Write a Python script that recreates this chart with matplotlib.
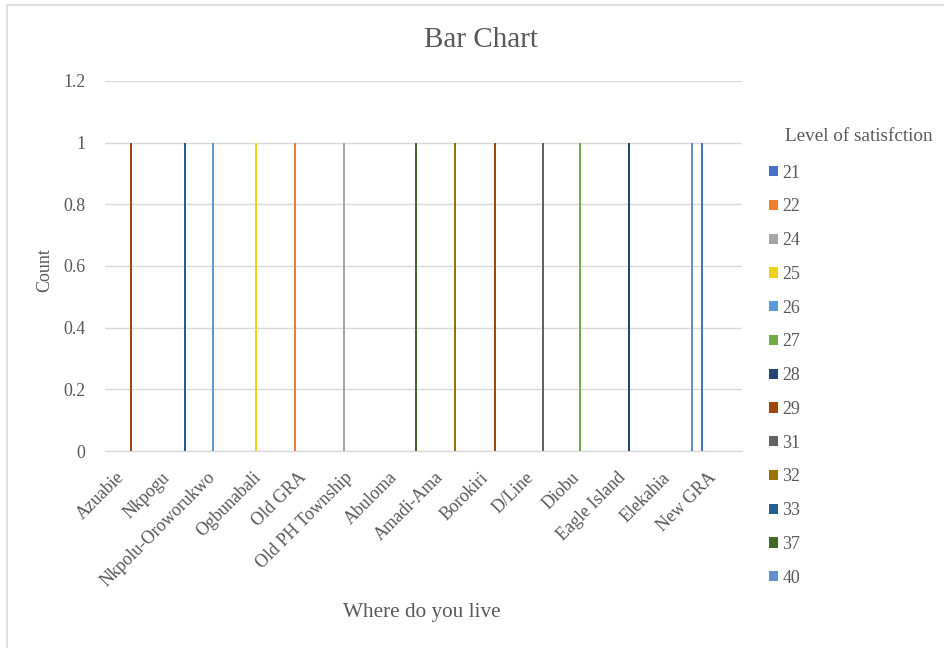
import matplotlib
matplotlib.use("Agg")
import matplotlib.pyplot as plt
from matplotlib.patches import Rectangle, Patch
from matplotlib.ticker import FuncFormatter, MultipleLocator

# ---- data ----
categories = ["Azuabie", "Nkpogu", "Nkpolu-Oroworukwo", "Ogbunabali", "Old GRA",
              "Old PH Township", "Abuloma", "Amadi-Ama", "Borokiri", "D/Line",
              "Diobu", "Eagle Island", "Elekahia", "New GRA"]
levels = ["21", "22", "24", "25", "26", "27", "28", "29", "31", "32", "33", "37", "40"]
# satisfaction level reported in each area (one respondent each)
area_level = ["29", "33", "26", "25", "22", "24", "37", "32", "29", "31", "27", "28", "40", "21"]
area_count = [1, 1, 1, 1, 1, 1, 1, 1, 1, 1, 1, 1, 1, 1]

colors = ["#4472C4", "#ED7D31", "#A5A5A5", "#EED21A", "#5B9BD5", "#70AD47", "#264478",
          "#9E480E", "#636363", "#997300", "#255E91", "#43682B", "#698ED0"]

# build count matrix (series x category)
counts = {lv: [0] * len(categories) for lv in levels}
for i, (lv, c) in enumerate(zip(area_level, area_count)):
    counts[lv][i] += c

TXT = "#595959"
GRID = "#D9D9D9"
FONT = ["Liberation Serif", "DejaVu Serif"]
plt.rcParams["font.family"] = FONT

W, H = 945, 648
fig = plt.figure(figsize=(W / 100, H / 100), dpi=100)
fig.patch.set_facecolor("white")

# chart-area border
fig.patches.append(Rectangle((7 / W, -0.05), 1.1, 1 - 5 / H + 0.05, transform=fig.transFigure,
                             fill=False, edgecolor=GRID, linewidth=1.2))

ax = fig.add_axes([105.3 / W, (H - 451) / H, 637 / W, 370 / H])
n = len(levels)
step = 0.0648
bw = 0.045
for j, lv in enumerate(levels):
    xs = [i + (j - (n - 1) / 2) * step for i in range(len(categories))]
    ax.bar(xs, counts[lv], width=bw, color=colors[j], linewidth=0, label=lv, zorder=3)

ax.set_xlim(-0.5, len(categories) - 0.5)
ax.set_ylim(0, 1.2)
ax.yaxis.set_major_locator(MultipleLocator(0.2))
ax.yaxis.set_major_formatter(FuncFormatter(lambda v, p: f"{v:g}"))
ax.grid(axis="y", color=GRID, linewidth=1.0, zorder=0)
for s in ["top", "right", "left"]:
    ax.spines[s].set_visible(False)
ax.spines["bottom"].set_color(GRID)
ax.spines["bottom"].set_linewidth(1.0)
ax.tick_params(axis="both", length=0, colors=TXT, labelsize=12.9)
ax.tick_params(axis="y", pad=14.5)
ax.tick_params(axis="x", pad=13)
ax.set_xticks(range(len(categories)))
ax.set_xticklabels(categories, rotation=45, ha="right", va="top")

fig.text(481 / W, 1 - 40 / H, "Bar Chart", ha="center", va="center", fontsize=21, color=TXT)
fig.text(422 / W, 1 - 613 / H, "Where do you live", ha="center", va="center", fontsize=15.3, color=TXT)
fig.text(45 / W, 1 - 270 / H, "Count", ha="center", va="center", rotation=90, fontsize=13, color=TXT)
fig.text(859 / W, 1 - 137 / H, "Level of satisfction", ha="center", va="center", fontsize=13.8, color=TXT)

handles = [Patch(facecolor=colors[j], edgecolor="none", label=lv) for j, lv in enumerate(levels)]
leg = fig.legend(handles=handles, loc="upper left", bbox_to_anchor=(769 / W, 1 - 164.5 / H),
                 frameon=False, fontsize=12.9, handlelength=0.5, handleheight=0.5,
                 handletextpad=0.25, labelspacing=0.935, borderaxespad=0, borderpad=0)
for t in leg.get_texts():
    t.set_color(TXT)

fig.savefig("out.png", dpi=100)
